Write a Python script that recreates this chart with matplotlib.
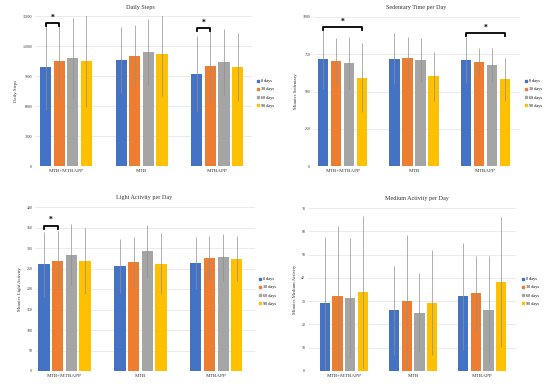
import matplotlib
matplotlib.use("Agg")
import matplotlib.pyplot as plt
import numpy as np
from matplotlib.lines import Line2D

plt.rcParams["font.family"] = ["Liberation Serif", "DejaVu Serif"]

categories = ["MTB+MTBAPP", "MTB", "MTBAPP"]
series = ["0 days", "30 days", "60 days", "90 days"]
colors = ["#4472C4", "#ED7D31", "#A5A5A5", "#FFC000"]

# values are [series][group]
steps_mean = [[9900, 10570, 9200], [10530, 11000, 10000],
              [10830, 11370, 10370], [10530, 11200, 9930]]
steps_err = [[4300, 3300, 3800], [3700, 3100, 3600],
             [4000, 3300, 3300], [4600, 4200, 3400]]

sed_mean = [[716, 720, 713], [707, 723, 698], [693, 711, 678], [593, 602, 582]]
sed_err = [[200, 170, 155], [155, 146, 92], [174, 146, 112], [232, 165, 145]]

light_mean = [[260, 256, 264], [269, 265, 275], [284, 292, 277], [268, 262, 274]]
light_err = [[79, 66, 64], [72, 61, 55], [75, 65, 58], [81, 74, 55]]

med_mean = [[29.0, 26.1, 32.0], [32.0, 30.0, 33.3], [31.4, 25.1, 26.4], [33.8, 29.4, 38.1]]
med_err = [[28.4, 19.1, 22.8], [30.4, 28.5, 16.2], [25.8, 16.8, 23.0], [32.6, 22.4, 28.0]]

GRID = "#dcdcdc"
ERR = "#8f8f8f"
INK = "#333333"

W, H = 550, 388
fig = plt.figure(figsize=(5.5, 3.88), dpi=100, facecolor="white")


def px_axes(x0, x1, ytop, ybot):
    return fig.add_axes([x0 / W, 1 - ybot / H, (x1 - x0) / W, (ybot - ytop) / H])


def panel(ax, means, errs, xlim, ymax, yticks, ylabel, step=0.18, width=0.148):
    x = np.arange(len(categories))
    for i in range(len(series)):
        pos = x + (i - 1.5) * step
        ax.bar(pos, means[i], width, color=colors[i], zorder=2)
        ax.errorbar(pos, means[i], yerr=errs[i], fmt="none", ecolor=ERR,
                    elinewidth=0.5, capsize=0, zorder=3)
    ax.set_xlim(*xlim)
    ax.set_ylim(0, ymax)
    ax.set_yticks(yticks)
    ax.set_yticklabels([str(t) for t in yticks], fontsize=2.8, color=INK)
    ax.set_xticks(x)
    ax.set_xticklabels(categories, fontsize=3.7, color=INK)
    ax.tick_params(length=0, pad=2)
    ax.yaxis.grid(True, color=GRID, linewidth=0.4, zorder=0)
    ax.set_axisbelow(True)
    for s in ax.spines.values():
        s.set_visible(False)
    ax.set_ylabel(ylabel, fontsize=3.4, color=INK, labelpad=3)


def bracket(ax, x0, x1, y, hook, ystar):
    ax.plot([x0, x0, x1, x1], [y - hook, y, y, y - hook], color="black",
            linewidth=1.3, zorder=4, clip_on=False)
    ax.text((x0 + x1) / 2, ystar, "*", ha="center", va="center",
            fontsize=5.5, fontweight="bold", clip_on=False)


def legend(ax, xpx, ypx):
    handles = [Line2D([], [], marker="s", linestyle="none", markersize=1.7,
                      color=c) for c in colors]
    ax.legend(handles, series, loc="upper left",
              bbox_to_anchor=(xpx / W, 1 - ypx / H), bbox_transform=fig.transFigure,
              frameon=False, fontsize=3.1, handlelength=0.6, handletextpad=0.4,
              labelspacing=1.0, borderpad=0, borderaxespad=0)


# Daily steps
ax1 = px_axes(35, 252, 16, 166)
panel(ax1, steps_mean, steps_err, (-0.41, 2.46), 15000,
      [0, 3000, 6000, 9000, 12000, 15000], "Daily Steps")
bracket(ax1, -0.27, -0.09, 14300, 300, 14850)
bracket(ax1, 1.73, 1.91, 13800, 300, 14300)
legend(ax1, 257, 79)
fig.text(140 / W, 1 - 8 / H, "Daily Steps", ha="center", va="center",
         fontsize=4.4, color=INK)

# Sedentary time
ax2 = px_axes(313, 520, 17, 166)
panel(ax2, sed_mean, sed_err, (-0.42, 2.49), 1000,
      [0, 250, 500, 750, 1000], "Minutes Sedentary", step=0.183, width=0.142)
bracket(ax2, -0.275, 0.275, 935, 20, 965)
bracket(ax2, 1.725, 2.275, 890, 20, 925)
legend(ax2, 525, 79)
fig.text(416 / W, 1 - 8 / H, "Sedentary Time per Day", ha="center",
         va="center", fontsize=4.4, color=INK)

# Light activity
ax3 = px_axes(35, 255, 207, 371)
panel(ax3, light_mean, light_err, (-0.39, 2.51), 400,
      list(range(0, 401, 50)), "Minutes Light Activity")
bracket(ax3, -0.27, -0.09, 354, 7, 369)
legend(ax3, 259, 277)
fig.text(144 / W, 1 - 198 / H, "Light Activity per Day", ha="center",
         va="center", fontsize=4.4, color=INK)

# Medium activity
ax4 = px_axes(308, 516, 208, 371)
panel(ax4, med_mean, med_err, (-0.52, 2.49), 70,
      list(range(0, 71, 10)), "Minutes Medium Activity", step=0.185, width=0.147)
legend(ax4, 522, 277)
fig.text(417 / W, 1 - 199 / H, "Medium Activity per Day", ha="center",
         va="center", fontsize=4.4, color=INK)

fig.savefig("out.png", dpi=100, facecolor="white")
